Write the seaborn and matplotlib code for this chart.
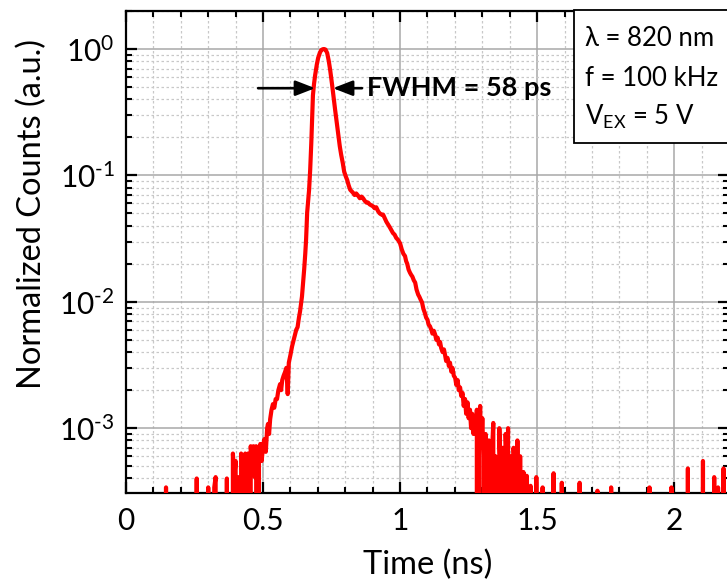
import numpy as np
import pandas as pd
import matplotlib
matplotlib.use("Agg")
import matplotlib.pyplot as plt
from matplotlib.patches import Rectangle
from matplotlib.ticker import MultipleLocator, LogLocator, NullFormatter, FuncFormatter
import seaborn as sns

# ---- data ----
time_ns = [
    0.000, 0.140, 0.146, 0.152, 0.252, 0.258, 0.264, 0.296, 0.300, 0.305,
    0.318, 0.322, 0.327, 0.332, 0.362, 0.368, 0.374, 0.385, 0.390, 0.395,
    0.400, 0.405, 0.410, 0.415, 0.420, 0.425, 0.430, 0.435, 0.440, 0.445,
    0.450, 0.455, 0.460, 0.465, 0.470, 0.475, 0.480, 0.485, 0.490, 0.495,
    0.500, 0.505, 0.510, 0.515, 0.518, 0.522, 0.526, 0.531, 0.536, 0.541,
    0.546, 0.551, 0.556, 0.562, 0.566, 0.570, 0.575, 0.580, 0.585, 0.590,
    0.594, 0.600, 0.606, 0.612, 0.617, 0.621, 0.626, 0.631, 0.635, 0.639,
    0.642, 0.646, 0.650, 0.654, 0.657, 0.661, 0.665, 0.668, 0.672, 0.676,
    0.679, 0.682, 0.686, 0.690, 0.696, 0.701, 0.707, 0.712, 0.718, 0.723,
    0.728, 0.734, 0.740, 0.745, 0.752, 0.757, 0.763, 0.769, 0.774, 0.780,
    0.785, 0.791, 0.796, 0.802, 0.807, 0.812, 0.818, 0.823, 0.828, 0.834,
    0.840, 0.847, 0.853, 0.859, 0.865, 0.871, 0.877, 0.883, 0.889, 0.895,
    0.901, 0.907, 0.913, 0.920, 0.926, 0.932, 0.938, 0.944, 0.950, 0.956,
    0.962, 0.968, 0.974, 0.980, 0.986, 0.992, 1.000, 1.006, 1.012, 1.018,
    1.022, 1.026, 1.031, 1.036, 1.040, 1.045, 1.050, 1.055, 1.060, 1.066,
    1.070, 1.075, 1.080, 1.085, 1.090, 1.095, 1.100, 1.104, 1.109, 1.114,
    1.118, 1.123, 1.128, 1.132, 1.137, 1.142, 1.146, 1.150, 1.155, 1.160,
    1.164, 1.168, 1.173, 1.178, 1.182, 1.187, 1.191, 1.196, 1.201, 1.205,
    1.210, 1.214, 1.219, 1.223, 1.228, 1.232, 1.237, 1.241, 1.246, 1.250,
    1.255, 1.259, 1.263, 1.268, 1.272, 1.276, 1.280, 1.284, 1.288, 1.292,
    1.296, 1.300, 1.304, 1.308, 1.312, 1.316, 1.320, 1.324, 1.328, 1.332,
    1.336, 1.340, 1.344, 1.348, 1.352, 1.356, 1.362, 1.366, 1.370, 1.375,
    1.380, 1.385, 1.390, 1.394, 1.398, 1.404, 1.408, 1.414, 1.418, 1.422,
    1.428, 1.432, 1.438, 1.444, 1.450, 1.455, 1.462, 1.466, 1.472, 1.476,
    1.480, 1.492, 1.497, 1.502, 1.515, 1.520, 1.525, 1.554, 1.560, 1.566,
    1.584, 1.590, 1.596, 1.649, 1.655, 1.661, 1.714, 1.720, 1.726, 1.764,
    1.770, 1.776, 1.904, 1.910, 1.916, 1.984, 1.990, 1.996, 2.044, 2.050,
    2.056, 2.099, 2.105, 2.111, 2.140, 2.146, 2.152, 2.160, 2.166, 2.174,
    2.180, 2.186, 2.200,
]
norm_counts = [
    0, 0, 3.4e-4, 0, 0, 4.0e-4, 0, 0, 3.4e-4, 0,
    0, 3.4e-4, 4.1e-4, 0, 0, 4.0e-4, 0, 0, 6.3e-4, 4.1e-4,
    5.5e-4, 0, 4.1e-4, 0, 6.3e-4, 5.5e-4, 0, 6.3e-4, 5.5e-4, 6.3e-4,
    0, 7.2e-4, 5.5e-4, 7.2e-4, 4.1e-4, 7.2e-4, 0, 6.3e-4, 7.5e-4, 5.5e-4,
    7.2e-4, 8.2e-4, 6.5e-4, 1.0e-3, 1.08e-3, 9.0e-4, 1.18e-3, 1.4e-3, 1.55e-3, 1.45e-3,
    1.7e-3, 1.7e-3, 2.0e-3, 2.23e-3, 2.0e-3, 2.4e-3, 2.6e-3, 2.77e-3, 3.0e-3, 1.86e-3,
    3.3e-3, 3.8e-3, 4.45e-3, 5.0e-3, 5.5e-3, 6.0e-3, 6.3e-3, 7.5e-3, 8.4e-3, 9.8e-3,
    0.011, 0.014, 0.018, 0.024, 0.031, 0.051, 0.065, 0.077, 0.111, 0.18,
    0.275, 0.43, 0.53, 0.62, 0.75, 0.85, 0.93, 0.98, 0.997, 1.0,
    0.99, 0.93, 0.80, 0.68, 0.52, 0.42, 0.33, 0.26, 0.21, 0.17,
    0.146, 0.125, 0.107, 0.098, 0.092, 0.084, 0.077, 0.075, 0.073, 0.070,
    0.072, 0.069, 0.066, 0.068, 0.066, 0.063, 0.061, 0.061, 0.059, 0.058,
    0.057, 0.055, 0.056, 0.052, 0.050, 0.049, 0.049, 0.046, 0.043, 0.041,
    0.039, 0.037, 0.035, 0.034, 0.032, 0.031, 0.029, 0.026, 0.024, 0.023,
    0.021, 0.020, 0.018, 0.017, 0.0164, 0.0158, 0.0148, 0.0142, 0.0125, 0.0114,
    0.0110, 0.0104, 0.0099, 0.0088, 0.0082, 0.0075, 0.0072, 0.0066, 0.0064, 0.0060,
    0.0056, 0.0059, 0.0055, 0.0050, 0.0052, 0.0046, 0.0048, 0.0043, 0.0040, 0.0042,
    0.0038, 0.0034, 0.0036, 0.0031, 0.0033, 0.0028, 0.0030, 0.0026, 0.0025, 0.0022,
    0.0024, 0.0020, 0.0021, 0.0018, 0.0019, 0.0015, 0.0017, 0.0013, 0.0016, 0.0012,
    0.0014, 0.0010, 0.0013, 0.0009, 0.0011, 0.0009, 0.0014, 0, 0.0008, 0.0015,
    0.0007, 0.0012, 0.0006, 0, 0.0009, 0.0006, 0, 0.0008, 0.0005, 0,
    0.0007, 0.0011, 0, 0.0006, 0.0004, 0, 0.0010, 0.0005, 0, 0.0007,
    0, 0.0009, 0.0004, 0.0010, 0, 0.0006, 0, 0.0007, 0.0004, 0,
    0.0008, 0, 0.0006, 0, 4.5e-4, 0, 4.2e-4, 0, 0, 3.5e-4,
    0, 0, 4.1e-4, 0, 0, 3.4e-4, 0, 0, 4.4e-4, 0,
    0, 3.7e-4, 0, 0, 3.7e-4, 0, 0, 3.2e-4, 0, 0,
    3.4e-4, 0, 0, 3.4e-4, 0, 0, 3.4e-4, 0, 0, 4.8e-4,
    0, 0, 5.5e-4, 0, 0, 4.1e-4, 0, 3.4e-4, 0, 0,
    4.8e-4, 0, 0,
]
x_ticks = [0, 0.5, 1, 1.5, 2]
x_tick_labels = ["0", "0.5", "1", "1.5", "2"]
info_lines = ["\u03bb = 820 nm", "f = 100 kHz", "V$_{EX}$ = 5 V"]
fwhm_text = "FWHM = 58 ps"
fwhm_level = 0.49
left_arrow = (0.482, 0.690)
right_arrow = (0.861, 0.755)
fwhm_text_x = 0.878

df = pd.DataFrame({"Time (ns)": time_ns, "Normalized Counts (a.u.)": norm_counts})

# ---- style ----
sns.set_theme(style="ticks")
plt.rcParams["font.family"] = ["Lato", "DejaVu Sans"]
plt.rcParams["mathtext.fontset"] = "custom"
plt.rcParams["mathtext.rm"] = "Lato"
plt.rcParams["mathtext.it"] = "Lato"
plt.rcParams["mathtext.default"] = "regular"
plt.rcParams["axes.unicode_minus"] = False

W, H = 727, 581
fig = plt.figure(figsize=(W / 100, H / 100), dpi=100)
ax_l, ax_r, ax_t, ax_b = 126, 729, 11, 493
ax = fig.add_axes([ax_l / W, 1 - ax_b / H, (ax_r - ax_l) / W, (ax_b - ax_t) / H])

sns.lineplot(data=df, x="Time (ns)", y="Normalized Counts (a.u.)", ax=ax,
             color="#ff0000", linewidth=3.0, estimator=None, sort=False, zorder=3)
ax.set_yscale("log")
ax.set_xlim(0, 2.2)
ax.set_ylim(3.07e-4, 2.0)

ax.xaxis.set_minor_locator(MultipleLocator(0.1))
ax.set_xticks(x_ticks)
ax.set_xticklabels(x_tick_labels)
ax.yaxis.set_major_locator(LogLocator(base=10, numticks=10))
ax.yaxis.set_minor_locator(LogLocator(base=10, subs=np.arange(2, 10), numticks=20))
ax.yaxis.set_minor_formatter(NullFormatter())


def decade_label(v, pos):
    e = int(round(np.log10(v)))
    if e < 0:
        return r"$10^{\text{-}%d}$" % (-e)
    return r"$10^{%d}$" % e


ax.yaxis.set_major_formatter(FuncFormatter(decade_label))

ax.grid(which="major", color="#a8a8a8", linestyle="-", linewidth=1.1, zorder=0)
ax.grid(which="minor", color="#c8c8c8", linestyle=(0, (2, 2)), linewidth=0.9, zorder=0)
ax.set_axisbelow(True)

for s in ax.spines.values():
    s.set_linewidth(1.6)
    s.set_color("black")

ax.tick_params(which="major", direction="in", length=8, width=1.6, top=True, right=True,
               labelsize=21.5, pad=8, color="black", labelcolor="black")
ax.tick_params(axis="x", which="major", pad=10)
ax.tick_params(which="minor", direction="in", length=4, width=1.5, top=True, right=True,
               color="black")

ax.set_xlabel("Time (ns)", fontsize=23.5, color="black")
ax.set_ylabel("Normalized Counts (a.u.)", fontsize=23.5, color="black")
ax.xaxis.set_label_coords(0.5, -(550 - ax_b) / (ax_b - ax_t))
ax.yaxis.set_label_coords(-(126 - 47) / (ax_r - ax_l), 1 - (214 - ax_t) / (ax_b - ax_t))

# FWHM arrows and text
arrow_kw = dict(arrowstyle="-|>,head_length=0.85,head_width=0.33", color="black", lw=1.9,
                shrinkA=0, shrinkB=0, mutation_scale=14)
ax.annotate("", xy=(left_arrow[1], fwhm_level), xytext=(left_arrow[0], fwhm_level),
            arrowprops=arrow_kw, zorder=5)
ax.annotate("", xy=(right_arrow[1], fwhm_level), xytext=(right_arrow[0], fwhm_level),
            arrowprops=arrow_kw, zorder=5)
ax.text(fwhm_text_x, fwhm_level, fwhm_text, fontsize=19.5, fontweight="bold",
        ha="left", va="center", color="black", zorder=5)

# info box
bx = (574 - ax_l) / (ax_r - ax_l)
by = 1 - (143 - ax_t) / (ax_b - ax_t)
ax.add_patch(Rectangle((bx, by), 0.5, 1 - by + 0.002, transform=ax.transAxes,
                       facecolor="white", edgecolor="black", linewidth=1.3,
                       zorder=6, clip_on=False))
for i, line in enumerate(info_lines):
    ypx = [38, 78, 117][i]
    ax.text((585 - ax_l) / (ax_r - ax_l), 1 - (ypx - ax_t) / (ax_b - ax_t), line,
            transform=ax.transAxes, fontsize=18.5, ha="left", va="center",
            color="black", zorder=7)

fig.savefig("out.png", dpi=100)
